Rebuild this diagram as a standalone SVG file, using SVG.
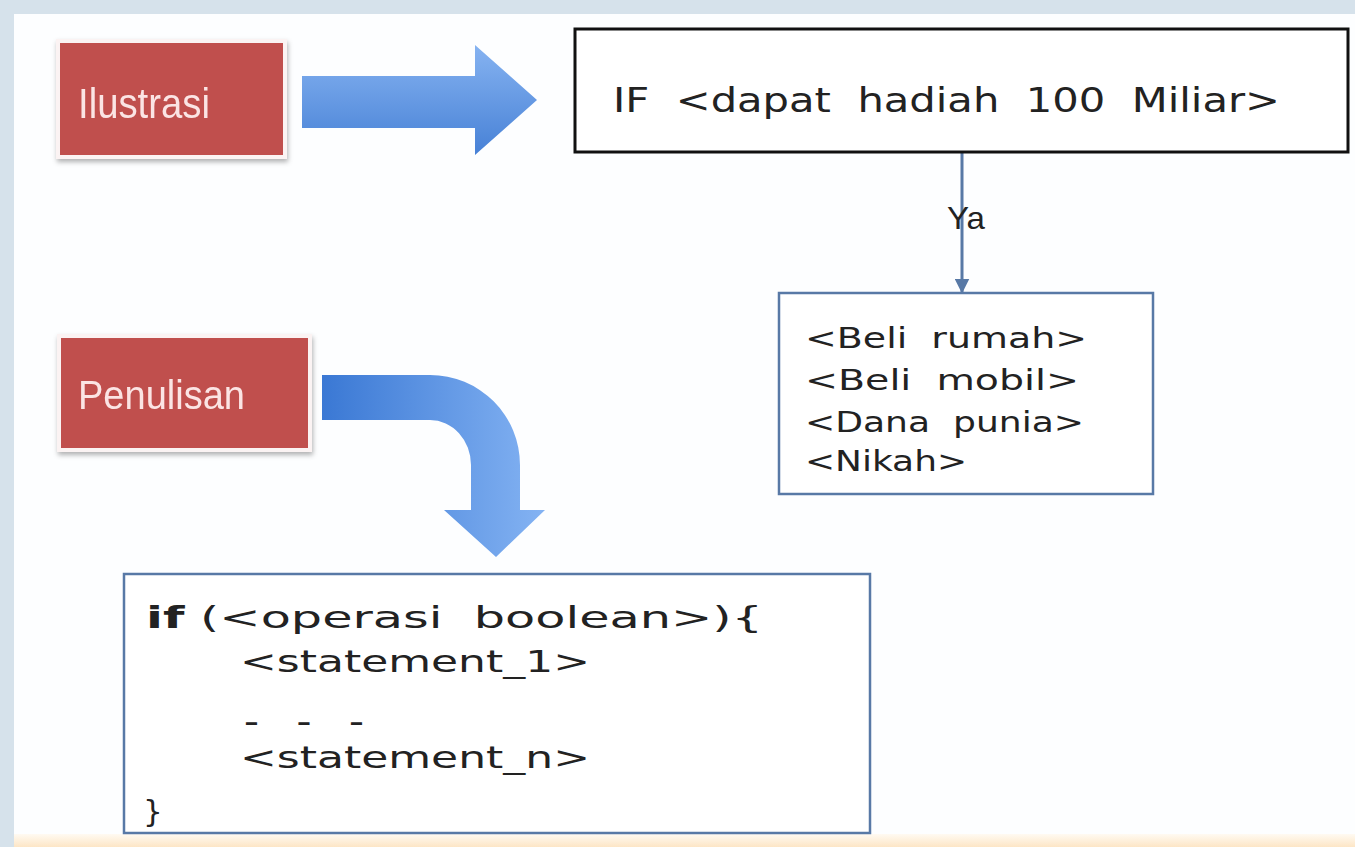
<svg xmlns="http://www.w3.org/2000/svg" width="1355" height="847" viewBox="0 0 1355 847">
<defs>
<style>
.red{fill:#c0504d;stroke:#fbf3f3;stroke-width:4}
.lbl{font-family:"Liberation Sans",Arial,sans-serif;fill:#fbe4e4}
.t{font-family:"DejaVu Sans",Verdana,sans-serif;fill:#222}
.box{fill:#fff}
</style>
<linearGradient id="gStraight" x1="0" y1="0" x2="0" y2="1">
<stop offset="0" stop-color="#86b3f1"/>
<stop offset="1" stop-color="#4781d6"/>
</linearGradient>
<linearGradient id="gCurve" x1="0" y1="0" x2="1" y2="0">
<stop offset="0" stop-color="#3a78d4"/>
<stop offset="1" stop-color="#84b3f3"/>
</linearGradient>
<linearGradient id="gBottom" x1="0" y1="0" x2="0" y2="1">
<stop offset="0" stop-color="#fffaf2"/>
<stop offset="1" stop-color="#fde6c6"/>
</linearGradient>
<filter id="sh" x="-10%" y="-10%" width="130%" height="130%">
<feDropShadow dx="1" dy="3" stdDeviation="2.5" flood-color="#000" flood-opacity="0.3"/>
</filter>
<marker id="ah" viewBox="0 0 10 10" refX="9" refY="5" markerWidth="5" markerHeight="5" orient="auto" markerUnits="strokeWidth">
<path d="M0,0 L10,5 L0,10 Z" fill="#5879a6"/>
</marker>
</defs>

<!-- background -->
<rect x="0" y="0" width="1355" height="847" fill="#d6e2eb"/>
<rect x="14" y="14" width="1341" height="833" fill="#fdfeff"/>
<rect x="14" y="834" width="1341" height="13" fill="url(#gBottom)"/>

<g id="connectors">
<path id="arrowStraight" d="M302,76 L475,76 L475,45 L537,100 L475,155 L475,128 L302,128 Z" fill="url(#gStraight)"/>
<path id="arrowCurve" d="M322,375 L430,375 A90,90 0 0 1 520,465 L520,510 L545,510 L496,557 L444,510 L471,510 L471,465 A41,45 0 0 0 430,420 L322,420 Z" fill="url(#gCurve)"/>
<line id="edgeYa" x1="962" y1="153" x2="962" y2="292" stroke="#5879a6" stroke-width="3" marker-end="url(#ah)"/>
<text x="947" y="229" class="lbl" style="fill:#222" font-size="32" textLength="38" lengthAdjust="spacingAndGlyphs">Ya</text>
</g>

<g id="ilustrasi" filter="url(#sh)">
<rect class="red" x="58" y="41" width="227" height="116"/>
<text class="lbl" x="78" y="118" font-size="42" textLength="132" lengthAdjust="spacingAndGlyphs">Ilustrasi</text>
</g>

<g id="penulisan" filter="url(#sh)">
<rect class="red" x="59" y="336" width="251" height="114"/>
<text class="lbl" x="78" y="409" font-size="40" textLength="167" lengthAdjust="spacingAndGlyphs">Penulisan</text>
</g>

<g id="ifBox">
<rect class="box" x="575" y="29" width="773" height="123" stroke="#111" stroke-width="3"/>
<text class="t" x="613" y="112" font-size="33" textLength="667" lengthAdjust="spacingAndGlyphs" xml:space="preserve">IF  &lt;dapat  hadiah  100  Miliar&gt;</text>
</g>

<g id="yaBox">
<rect class="box" x="779" y="293" width="374" height="201" stroke="#5879a6" stroke-width="2.5"/>
<text class="t" font-size="28" xml:space="preserve">
<tspan x="805" y="348" textLength="282" lengthAdjust="spacingAndGlyphs">&lt;Beli  rumah&gt;</tspan>
<tspan x="805" y="390" textLength="274" lengthAdjust="spacingAndGlyphs">&lt;Beli  mobil&gt;</tspan>
<tspan x="805" y="432" textLength="279" lengthAdjust="spacingAndGlyphs">&lt;Dana  punia&gt;</tspan>
<tspan x="805" y="471" textLength="162" lengthAdjust="spacingAndGlyphs">&lt;Nikah&gt;</tspan>
</text>
</g>

<g id="codeBox">
<rect class="box" x="124" y="574" width="746" height="259" stroke="#5879a6" stroke-width="2.5"/>
<text class="t" font-size="31" xml:space="preserve">
<tspan x="146" y="628" textLength="617" lengthAdjust="spacingAndGlyphs"><tspan font-weight="bold">if</tspan> (&lt;operasi  boolean&gt;){</tspan>
<tspan x="240" y="672" textLength="350" lengthAdjust="spacingAndGlyphs">&lt;statement_1&gt;</tspan>
<tspan x="240" y="768" textLength="350" lengthAdjust="spacingAndGlyphs">&lt;statement_n&gt;</tspan>
<tspan x="143" y="822">}</tspan>
</text>
<text class="t" x="244" y="729" font-size="20" font-weight="bold" textLength="120" lengthAdjust="spacingAndGlyphs" xml:space="preserve">-   -   -</text>
</g>
</svg>
